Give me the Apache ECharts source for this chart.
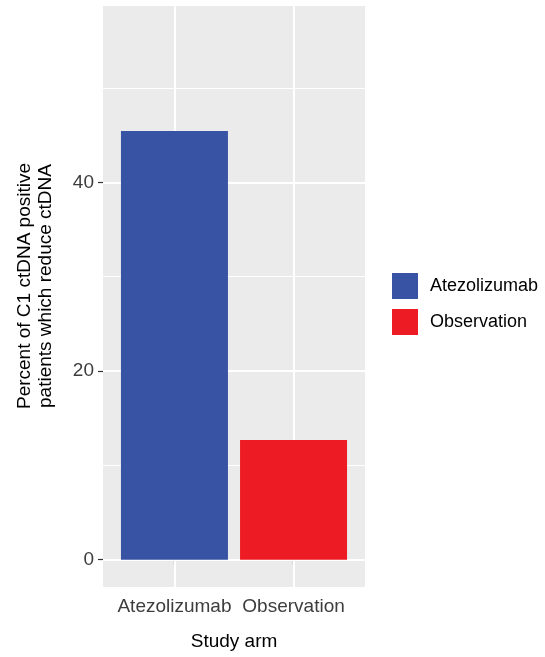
<!DOCTYPE html>
<html>
<head>
<meta charset="utf-8">
<script src="https://cdn.jsdelivr.net/npm/echarts@6/dist/echarts.min.js"></script>
<style>
  html, body { margin: 0; padding: 0; background: #ffffff; }
  #chart { width: 545px; height: 657px; }
</style>
</head>
<body>
<div id="chart"></div>
<script>
// Study arms (categories) and the percent of C1 ctDNA positive patients whose ctDNA fell
const arms = ['Atezolizumab', 'Observation'];
const percentReduced = [45.45, 12.7];
const armColors = ['#3953A4', '#ED1C24'];

// Axis ticks and grid positions
const yTicks = [0, 20, 40];
const yMinorGrid = [10, 30, 50];
const armPositions = [1, 2];

const chart = echarts.init(document.getElementById('chart'), null, { renderer: 'canvas' });

const fontFamily = 'Liberation Sans, Arial, Helvetica, sans-serif';

// Panel grid lines, drawn underneath the bars
const gridLines = []
  .concat(yTicks.map(v => ({ yAxis: v, lineStyle: { width: 2 } })))
  .concat(yMinorGrid.map(v => ({ yAxis: v, lineStyle: { width: 1 } })))
  .concat(armPositions.map(v => ({ xAxis: v, lineStyle: { width: 2 } })));

const barSeries = arms.map((arm, i) => ({
  name: arm,
  type: 'bar',
  data: [[armPositions[i], percentReduced[i]]],
  barWidth: 107,
  barGap: '-100%',
  itemStyle: { color: armColors[i] },
  z: 3,
  silent: true,
  animation: false
}));

const option = {
  backgroundColor: '#ffffff',
  animation: false,
  grid: {
    left: 103, right: 180, top: 6, bottom: 70,
    show: true, backgroundColor: '#EBEBEB', borderWidth: 0
  },
  legend: {
    data: arms,
    orient: 'vertical',
    left: 392, top: 273,
    padding: 0,
    itemWidth: 26, itemHeight: 26, itemGap: 10,
    icon: 'rect',
    selectedMode: false,
    textStyle: { fontSize: 18, color: '#000000', fontFamily: fontFamily, padding: [0, 0, 0, 7] }
  },
  xAxis: {
    type: 'value',
    min: 0.4, max: 2.6,
    name: 'Study arm',
    nameLocation: 'middle',
    nameGap: 45,
    nameTextStyle: { fontSize: 19, color: '#000000', fontFamily: fontFamily },
    axisLine: { show: false },
    splitLine: { show: false },
    axisTick: { show: true, customValues: armPositions, length: 5, lineStyle: { color: '#333333', width: 1.2 } },
    axisLabel: {
      customValues: armPositions,
      formatter: v => arms[Math.round(v) - 1] || '',
      fontSize: 19, color: '#3D3D3D', fontFamily: fontFamily, margin: 10
    }
  },
  yAxis: {
    type: 'value',
    min: -2.89, max: 58.69,
    name: 'Percent of C1 ctDNA positive\npatients which reduce ctDNA',
    nameLocation: 'middle',
    nameRotate: 90,
    nameGap: 46,
    nameTextStyle: { fontSize: 19, lineHeight: 21.5, color: '#000000', fontFamily: fontFamily, padding: [0, 0, 0, 21] },
    axisLine: { show: false },
    splitLine: { show: false },
    axisTick: { show: true, customValues: yTicks, length: 5, lineStyle: { color: '#333333', width: 1.2 } },
    axisLabel: {
      customValues: yTicks,
      fontSize: 19, color: '#3D3D3D', fontFamily: fontFamily, margin: 9
    }
  },
  series: [
    {
      name: 'panel-grid',
      type: 'line',
      data: [],
      silent: true,
      z: 1,
      markLine: {
        silent: true,
        symbol: 'none',
        z: 1,
        animation: false,
        label: { show: false },
        lineStyle: { color: '#FFFFFF', type: 'solid' },
        data: gridLines
      }
    }
  ].concat(barSeries)
};

chart.setOption(option);
</script>
</body>
</html>
